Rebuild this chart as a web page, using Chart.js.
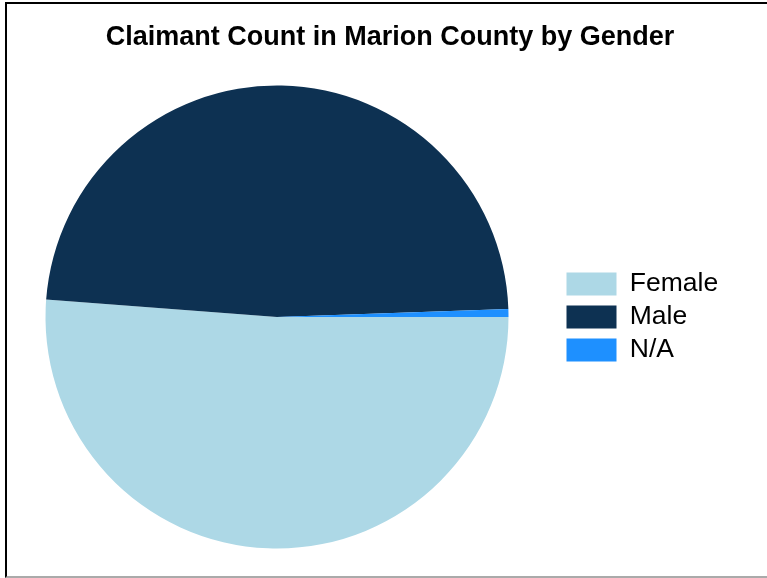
<!DOCTYPE html>
<html>
<head>
<meta charset="utf-8">
<script src="https://cdn.jsdelivr.net/npm/chart.js@4"></script>
<style>
  html, body { margin: 0; padding: 0; background: #fff; overflow: hidden; }
  body { width: 767px; height: 578px; position: relative; }
  #chart { position: absolute; left: -6px; top: 0; }
  .frame {
    position: absolute; left: 5px; top: 2px; width: 770px; height: 572px;
    border-top: 2px solid #000; border-left: 2px solid #000; border-bottom: 2px solid #aaa;
    pointer-events: none;
  }
</style>
</head>
<body>
<canvas id="chart" width="792" height="578"></canvas>
<div class="frame"></div>
<script>
'use strict';
// claimants by gender
const genders = ['Female', 'Male', 'N/A'];
const claimantCounts = [1024, 965, 11];
const sliceColors = ['#add8e6', '#0d3152', '#1e90ff'];

const legendWidth = 226; // legend column incl. the gap to the right edge

// keep the legend column wide enough so the pie sits left of the title centre
const fixLegendWidth = {
    id: 'fixLegendWidth',
    beforeLayout(chart) {
        const legend = chart.legend;
        if (!legend || legend._widthFixed) {
            return;
        }
        const fit = legend.fit;
        legend.fit = function () {
            fit.call(this);
            this.width = legendWidth;
        };
        legend._widthFixed = true;
    }
};

const font = '"Liberation Sans", Arial, sans-serif';

new Chart(document.getElementById('chart'), {
    type: 'pie',
    data: {
        labels: genders,
        datasets: [{
            data: claimantCounts,
            backgroundColor: sliceColors,
            borderWidth: 0,
            hoverOffset: 0,
            offset: 0
        }]
    },
    options: {
        responsive: false,
        animation: false,
        rotation: 90, // first slice starts at 3 o'clock
        layout: {
            padding: { top: 0, bottom: 29.5, left: 0, right: 0 }
        },
        plugins: {
            title: {
                display: true,
                text: 'Claimant Count in Marion County by Gender',
                color: '#000',
                font: { family: font, size: 27, weight: 'bold', lineHeight: 1.2 },
                padding: { top: 21.5, bottom: 31.6 }
            },
            legend: {
                position: 'right',
                fullSize: false,
                align: 'center',
                labels: {
                    boxWidth: 50,
                    boxHeight: 23,
                    padding: 6.5,
                    color: '#000',
                    font: { family: font, size: 26.5 }
                }
            },
            tooltip: { enabled: false }
        }
    },
    plugins: [fixLegendWidth]
});
</script>
</body>
</html>
